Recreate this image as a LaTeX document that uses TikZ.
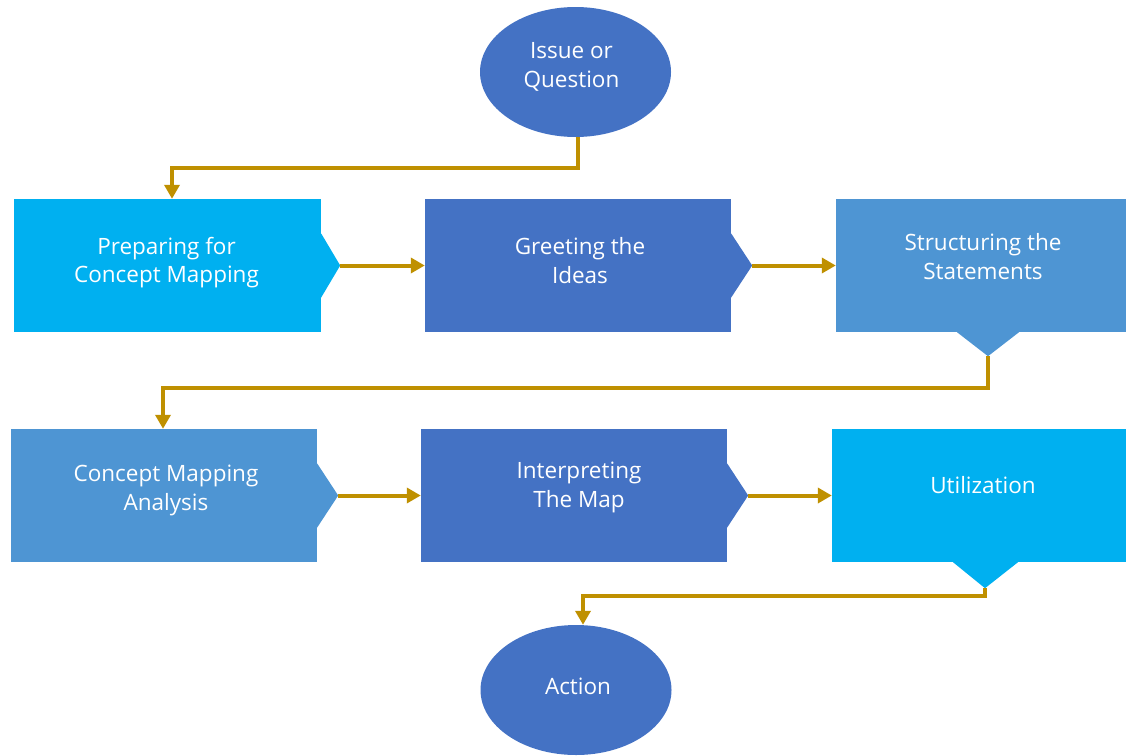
\documentclass[tikz,border=0pt]{standalone}
\usepackage{fontspec}
\setmainfont{Open Sans}
\usetikzlibrary{arrows.meta,calc,shapes.geometric}
\definecolor{skyfill}{HTML}{00B0F0}
\definecolor{royalfill}{HTML}{4472C4}
\definecolor{midfill}{HTML}{4E95D3}
\definecolor{goldline}{HTML}{BF9000}
\begin{document}
\begin{tikzpicture}[x=1pt,y=-1pt,
  stagebox/.style={rectangle,inner sep=0pt,minimum height=133pt},
  oval/.style={ellipse,fill=royalfill,inner sep=0pt,minimum width=191pt,minimum height=130pt},
  caption/.style={text=white,align=center,font=\fontsize{22.5}{28.5}\selectfont},
  conn/.style={draw=goldline,line width=4pt,-{Triangle[length=14pt,width=15pt]}},
  link/.style={draw=goldline,line width=4pt}]
\useasboundingbox (0,0) rectangle (1126,755);

% ovals
\node[oval] (e1) at (575.5,72) {};
\node[caption] (e1t) at ($(e1)+(-4,-5)$) {Issue or\\Question};
\node[oval] (e2) at (576,690) {};
\node[caption] (e2t) at ($(e2)+(2,-4)$) {Action};

% first row of stages
\node[stagebox,fill=skyfill,minimum width=307pt] (b1) at (167.5,265.5) {};
\node[stagebox,fill=royalfill,minimum width=306pt] (b2) at (578,265.5) {};
\node[stagebox,fill=midfill,minimum width=290pt] (b3) at (981,265.5) {};
% second row of stages
\node[stagebox,fill=midfill,minimum width=306pt] (b4) at (164,495.5) {};
\node[stagebox,fill=royalfill,minimum width=306pt] (b5) at (574,495.5) {};
\node[stagebox,fill=skyfill,minimum width=294pt] (b6) at (979,495.5) {};

% pointer tips
\coordinate (t1) at ($(b1.east)+(19,0)$);
\coordinate (t2) at ($(b2.east)+(21,0)$);
\coordinate (t3) at ($(b3.south)+(7,24)$);
\coordinate (t4) at ($(b4.east)+(21,0)$);
\coordinate (t5) at ($(b5.east)+(21,0)$);
\coordinate (t6) at ($(b6.south)+(6,26)$);

\fill[skyfill] ($(b1.east)+(0,-32)$) -- (t1) -- ($(b1.east)+(0,32)$) -- cycle;
\fill[royalfill] ($(b2.east)+(0,-32)$) -- (t2) -- ($(b2.east)+(0,32)$) -- cycle;
\fill[midfill] ($(b3.south)+(-24,0)$) -- (t3) -- ($(b3.south)+(38,0)$) -- cycle;
\fill[midfill] ($(b4.east)+(0,-32)$) -- (t4) -- ($(b4.east)+(0,32)$) -- cycle;
\fill[royalfill] ($(b5.east)+(0,-32)$) -- (t5) -- ($(b5.east)+(0,32)$) -- cycle;
\fill[skyfill] ($(b6.south)+(-26,0)$) -- (t6) -- ($(b6.south)+(39,0)$) -- cycle;

% stage captions
\node[caption] (b1t) at ($(b1)+(-1,-3)$) {Preparing for\\Concept Mapping};
\node[caption] (b2t) at ($(b2)+(2,-5)$) {Greeting the\\Ideas};
\node[caption] (b3t) at ($(b3)+(2,-9)$) {Structuring the\\Statements};
\node[caption] (b4t) at ($(b4)+(2,-5)$) {Concept Mapping\\Analysis};
\node[caption] (b5t) at ($(b5)+(5,-8)$) {Interpreting\\The Map};
\node[caption] (b6t) at ($(b6)+(4,-10)$) {Utilization};

% connectors
\draw[conn] ($(e1.south)+(2.5,0)$) -- ++(0,31) -| ([xshift=4.5pt]b1.north);
\draw[conn] (t1) -- (b2.west);
\draw[conn] (t2) -- (b3.west);
\draw[conn] (t3) -- ++(0,32) -| ([xshift=-1pt]b4.north);
\draw[conn] (t4) -- (b5.west);
\draw[conn] (t5) -- (b6.west);
\draw[conn] (t6) -- ++(0,8) -| ([xshift=7pt]e2.north);
\end{tikzpicture}
\end{document}
